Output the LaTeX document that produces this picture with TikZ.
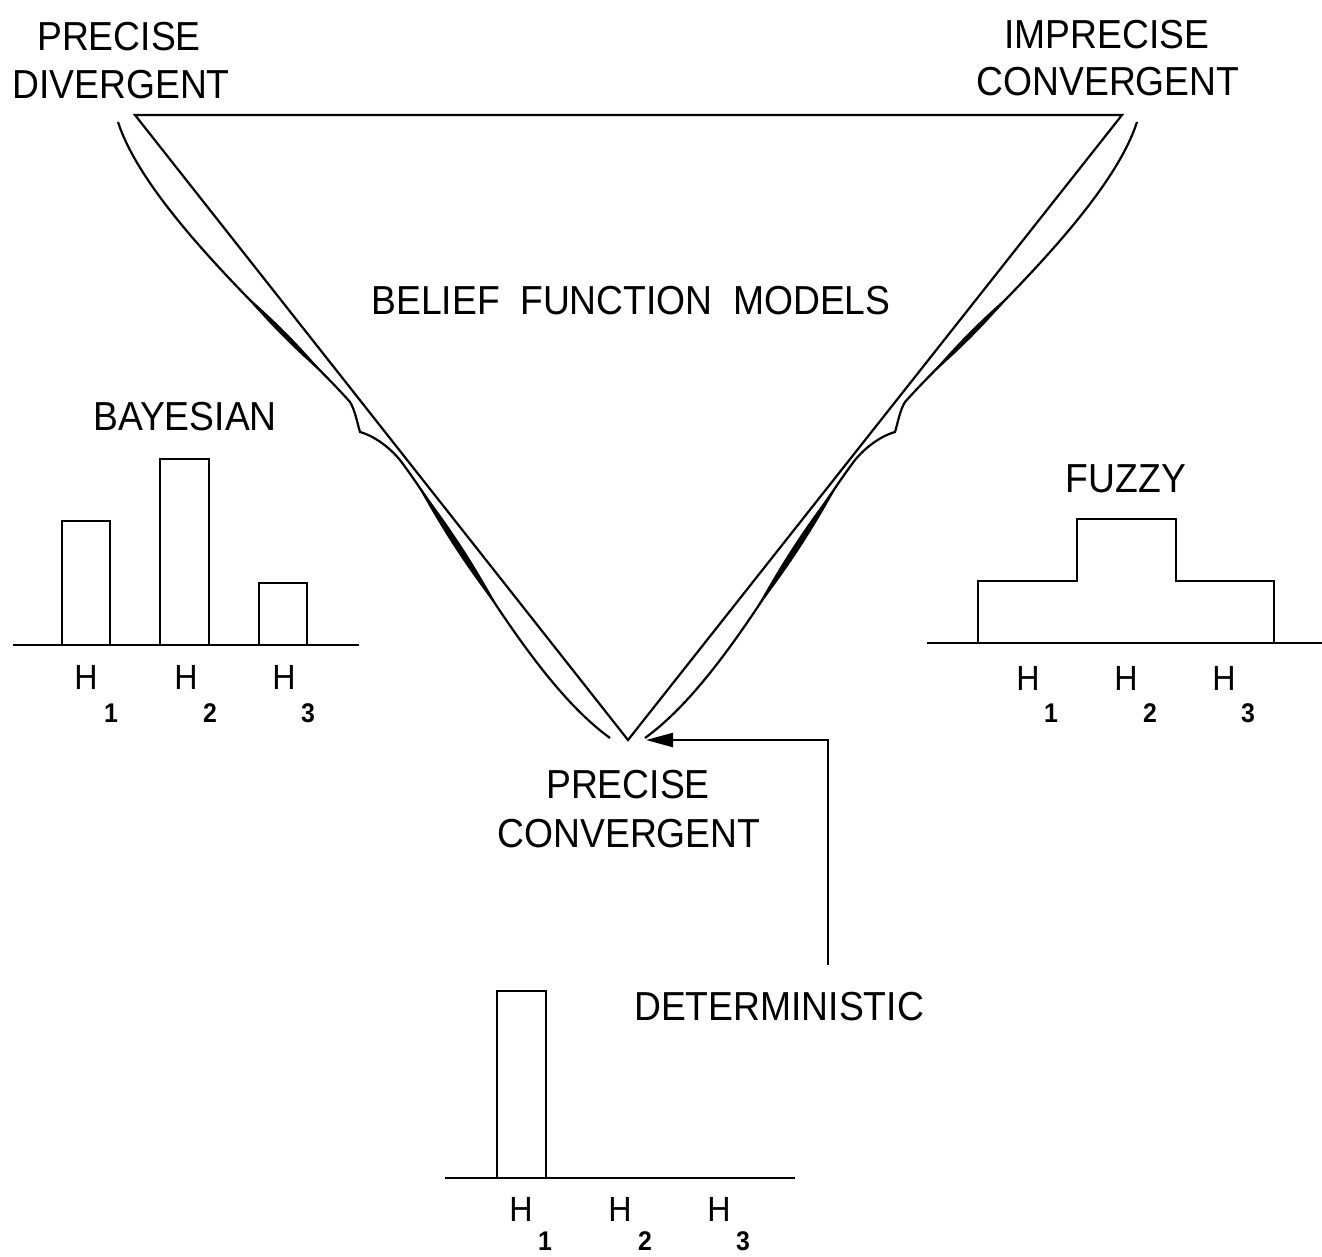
\documentclass[tikz,border=0pt]{standalone}
\usepackage{fontspec}
\setmainfont{Liberation Sans}[FakeStretch=0.92]
\usetikzlibrary{arrows.meta}
\tikzset{
  ln/.style={line width=2.2pt, line join=miter},
  lbl/.style={inner sep=0pt, outer sep=0pt, anchor=base, font=\fontsize{40.5}{48}\selectfont},
  hlbl/.style={inner sep=0pt, outer sep=0pt, anchor=base, font=\fontsize{35}{40}\selectfont},
  sublbl/.style={inner sep=0pt, outer sep=0pt, anchor=base, font=\fontsize{27}{32}\selectfont\bfseries},
  lens/.style={fill=black, draw=none},
}
\newcommand{\shouldercurve}[1]{%
  \coordinate (#1U0) at (118,122);
  \coordinate (#1U1) at (350,402);
  \coordinate (#1K)  at (360,432);
  \coordinate (#1L0) at (400,460);
  \coordinate (#1L1) at (610,738);
  \draw[ln] (#1U0) .. controls (148,215) and (300,345) .. (#1U1)
      coordinate[pos=0.55] (#1ma) coordinate[pos=0.88] (#1mb)
    .. controls (355,410) and (357,422) .. (#1K)
    .. controls (368,434) and (385,442) .. (#1L0)
    .. controls (460,540) and (530,680) .. (#1L1)
      coordinate[pos=0.08] (#1mc) coordinate[pos=0.52] (#1md);
  \fill[lens] (#1ma) to[bend right=4] (#1mb) to[bend right=4] (#1ma) -- cycle;
  \fill[lens] (#1mc) to[bend right=4] (#1md) to[bend right=4] (#1mc) -- cycle;
}
\begin{document}
\begin{tikzpicture}[x=1pt, y=-1pt]
  \fill[white] (0,0) rectangle (1322,1256);
  \useasboundingbox (0,0) rectangle (1322,1256);

  % main triangle
  \coordinate (tl) at (135,115);
  \coordinate (tr) at (1122,115);
  \coordinate (ap) at (628,740);
  \draw[ln] (tl) -- (tr) -- (ap) -- cycle;

  % outer curved strokes
  \shouldercurve{L}
  \begin{scope}[xshift=1255pt, xscale=-1]
    \shouldercurve{R}
  \end{scope}

  % corner labels
  \node[lbl] (pd1) at (119,50) {PRECISE};
  \node[lbl] (pd2) at (121,98) {DIVERGENT};
  \node[lbl] (ic1) at (1107,48) {IMPRECISE};
  \node[lbl] (ic2) at (1108,95) {CONVERGENT};
  \node[lbl] (pc1) at (628,798) {PRECISE};
  \node[lbl] (pc2) at (629,847) {CONVERGENT};
  \node[lbl] (bfm) at (631,314) {BELIEF\hspace{10pt} FUNCTION\hspace{10pt} MODELS};

  % Bayesian
  \node[lbl] (bay) at (185,430) {BAYESIAN};
  \draw[ln] (13,645) coordinate (bay0) -- (359,645) coordinate (bay1);
  \draw[ln] (62,645) rectangle (110,521);
  \draw[ln] (160,645) rectangle (209,459);
  \draw[ln] (259,645) rectangle (307,583);
  \node[hlbl] (bh1) at (86,689) {H};
  \node[hlbl] (bh2) at (186,689) {H};
  \node[hlbl] (bh3) at (284,689) {H};
  \node[sublbl] (bs1) at (111,722) {1};
  \node[sublbl] (bs2) at (210,722) {2};
  \node[sublbl] (bs3) at (308,722) {3};

  % Fuzzy
  \node[lbl] (fuz) at (1126,492) {FUZZY};
  \draw[ln] (927,643) coordinate (fz0) -- (1322,643) coordinate (fz1);
  \draw[ln] (978,643) -- (978,581) -- (1077,581) -- (1077,519) -- (1176,519)
            -- (1176,581) -- (1274,581) -- (1274,643);
  \node[hlbl] (fh1) at (1028,690) {H};
  \node[hlbl] (fh2) at (1126,690) {H};
  \node[hlbl] (fh3) at (1224,690) {H};
  \node[sublbl] (fs1) at (1051,722) {1};
  \node[sublbl] (fs2) at (1150,722) {2};
  \node[sublbl] (fs3) at (1248,722) {3};

  % Deterministic
  \node[lbl] (det) at (779,1020) {DETERMINISTIC};
  \draw[ln] (445,1178) coordinate (dt0) -- (795,1178) coordinate (dt1);
  \draw[ln] (497,1178) rectangle (546,991);
  \node[hlbl] (dh1) at (521,1221) {H};
  \node[hlbl] (dh2) at (620,1221) {H};
  \node[hlbl] (dh3) at (719,1221) {H};
  \node[sublbl] (ds1) at (545,1250) {1};
  \node[sublbl] (ds2) at (645,1250) {2};
  \node[sublbl] (ds3) at (743,1250) {3};

  % arrow from deterministic to precise convergent
  \coordinate (dtail) at (828,965);
  \coordinate (pctip) at (646,740);
  \draw[ln, -{Triangle[length=27pt, width=14pt]}] (dtail) |- (pctip);
\end{tikzpicture}
\end{document}
